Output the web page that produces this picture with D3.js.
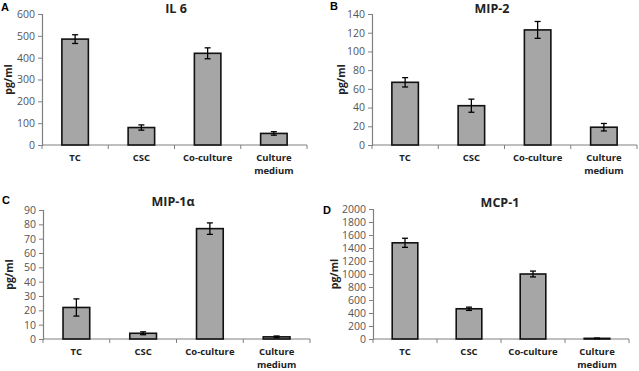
<!DOCTYPE html>
<html>
<head>
<meta charset="utf-8">
<script src="https://cdn.jsdelivr.net/npm/d3@7"></script>
<style>
  body { margin: 0; background: #fff; }
  svg { display: block; font-family: "Open Sans", "Liberation Sans", sans-serif; }
</style>
</head>
<body>
<div id="chart"></div>
<script>
// categories shared by all four panels
const categories = ["TC", "CSC", "Co-culture", "Culture medium"];

// IL 6
const il6Values = [485, 80, 420, 53];
const il6Errors = [20, 12, 25, 8];
const il6Ticks = [0, 100, 200, 300, 400, 500, 600];

// MIP-2
const mip2Values = [67, 42, 123, 19];
const mip2Errors = [5, 7, 9, 4];
const mip2Ticks = [0, 20, 40, 60, 80, 100, 120, 140];

// MIP-1α
const mip1aValues = [22, 4, 77, 1.5];
const mip1aErrors = [6, 1, 4, 0.6];
const mip1aTicks = [0, 10, 20, 30, 40, 50, 60, 70, 80, 90];

// MCP-1
const mcp1Values = [1480, 465, 1000, 10];
const mcp1Errors = [70, 25, 45, 4];
const mcp1Ticks = [0, 200, 400, 600, 800, 1000, 1200, 1400, 1600, 1800, 2000];

const svg = d3.select("#chart").append("svg")
    .attr("width", 639)
    .attr("height", 371);

function drawPanel(p) {
    let g = svg.append("g");

    let x = d3.scaleBand()
        .domain(categories)
        .range([p.left, p.right])
        .paddingInner(0.6)
        .paddingOuter(0.3);

    let y = d3.scaleLinear()
        .domain([0, d3.max(p.ticks)])
        .range([p.bottom, p.top]);

    // y axis
    let yAxis = d3.axisLeft(y)
        .tickValues(p.ticks)
        .tickSize(4)
        .tickPadding(3)
        .tickFormat(d3.format("d"));

    let ya = g.append("g")
        .attr("transform", "translate(" + p.left + ",0)")
        .call(yAxis);
    ya.select(".domain").attr("stroke", "#808080").attr("stroke-width", 1.2);
    ya.selectAll(".tick line").attr("stroke", "#808080");
    ya.selectAll(".tick text")
        .attr("fill", "#555")
        .attr("font-size", 10.5)
        .attr("font-family", "Open Sans, sans-serif");

    // x axis line and boundary ticks
    g.append("line")
        .attr("x1", p.left).attr("x2", p.right)
        .attr("y1", p.bottom).attr("y2", p.bottom)
        .attr("stroke", "#808080")
        .attr("stroke-width", 1.2);

    let step = x.step();
    let bounds = d3.range(categories.length + 1).map(i => p.left + i * step);
    g.selectAll(".xtick")
        .data(bounds)
        .enter()
        .append("line")
        .attr("class", "xtick")
        .attr("x1", d => d).attr("x2", d => d)
        .attr("y1", p.bottom).attr("y2", p.bottom + 4)
        .attr("stroke", "#808080");

    // bars
    g.selectAll(".bar")
        .data(p.values)
        .enter()
        .append("rect")
        .attr("class", "bar")
        .attr("x", (d, i) => x(categories[i]))
        .attr("y", d => y(d))
        .attr("width", x.bandwidth())
        .attr("height", d => y(0) - y(d))
        .attr("fill", "#a6a6a6")
        .attr("stroke", "#111")
        .attr("stroke-width", 1.6);

    // error bars
    let cx = i => x(categories[i]) + x.bandwidth() / 2;
    let err = g.selectAll(".err")
        .data(p.values)
        .enter()
        .append("g")
        .attr("class", "err")
        .attr("stroke", "#000")
        .attr("stroke-width", 1.3);

    err.append("line")
        .attr("x1", (d, i) => cx(i)).attr("x2", (d, i) => cx(i))
        .attr("y1", (d, i) => y(d + p.errors[i]))
        .attr("y2", (d, i) => y(Math.max(0, d - p.errors[i])));
    err.append("line")
        .attr("x1", (d, i) => cx(i) - 3).attr("x2", (d, i) => cx(i) + 3)
        .attr("y1", (d, i) => y(d + p.errors[i]))
        .attr("y2", (d, i) => y(d + p.errors[i]));
    err.append("line")
        .attr("x1", (d, i) => cx(i) - 3).attr("x2", (d, i) => cx(i) + 3)
        .attr("y1", (d, i) => y(Math.max(0, d - p.errors[i])))
        .attr("y2", (d, i) => y(Math.max(0, d - p.errors[i])));

    // category labels (two-word label wraps onto a second line)
    categories.forEach((c, i) => {
        let words = c === "Culture medium" ? ["Culture", "medium"] : [c];
        words.forEach((w, j) => {
            g.append("text")
                .attr("x", cx(i))
                .attr("y", p.bottom + 15.5 + j * 13)
                .attr("text-anchor", "middle")
                .attr("font-size", 9.5)
                .attr("font-weight", "bold")
                .attr("fill", "#222")
                .text(w);
        });
    });

    // y label
    g.append("text")
        .attr("transform", "translate(" + p.ylabelX + "," + ((p.top + p.bottom) / 2) + ") rotate(-90)")
        .attr("text-anchor", "middle")
        .attr("font-size", 10.5)
        .attr("font-weight", "bold")
        .attr("fill", "#222")
        .text("pg/ml");

    // title
    g.append("text")
        .attr("x", p.titleX)
        .attr("y", p.titleY)
        .attr("text-anchor", "middle")
        .attr("font-size", 12.5)
        .attr("font-weight", "bold")
        .attr("fill", "#222")
        .text(p.title);

    // panel letter
    g.append("text")
        .attr("x", p.letterX)
        .attr("y", p.letterY)
        .attr("font-size", 11)
        .attr("font-weight", "bold")
        .attr("font-family", "Liberation Sans, Arial, sans-serif")
        .attr("fill", "#000")
        .text(p.letter);
}

drawPanel({ letter: "A", title: "IL 6", values: il6Values, errors: il6Errors, ticks: il6Ticks,
    left: 42, right: 307, top: 14, bottom: 145, ylabelX: 12, titleX: 176, titleY: 13, letterX: 1, letterY: 11 });
drawPanel({ letter: "B", title: "MIP-2", values: mip2Values, errors: mip2Errors, ticks: mip2Ticks,
    left: 372, right: 637, top: 14, bottom: 145, ylabelX: 345, titleX: 492, titleY: 13, letterX: 330, letterY: 10 });
drawPanel({ letter: "C", title: "MIP-1\u03b1", values: mip1aValues, errors: mip1aErrors, ticks: mip1aTicks,
    left: 43, right: 310, top: 210, bottom: 339, ylabelX: 13, titleX: 173, titleY: 206, letterX: 2, letterY: 204 });
drawPanel({ letter: "D", title: "MCP-1", values: mcp1Values, errors: mcp1Errors, ticks: mcp1Ticks,
    left: 373, right: 629, top: 209, bottom: 339, ylabelX: 338, titleX: 500, titleY: 207, letterX: 323, letterY: 214 });
</script>
</body>
</html>
